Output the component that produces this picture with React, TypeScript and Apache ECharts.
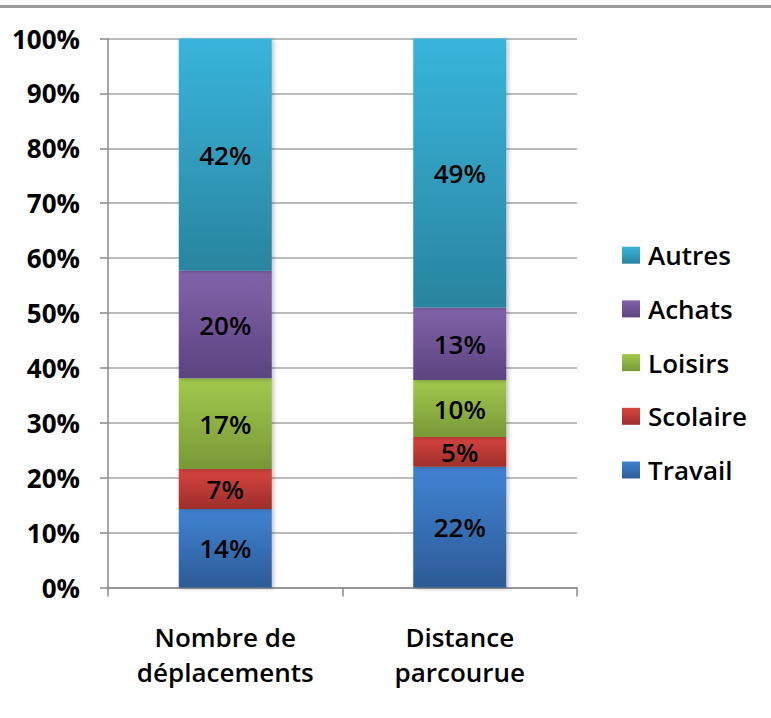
import React, { useEffect, useRef } from "react";
import * as echarts from "echarts";

const categories = ["Nombre de\ndéplacements", "Distance\nparcourue"];
const seriesNames = ["Travail", "Scolaire", "Loisirs", "Achats", "Autres"];
const travail = [14.3, 22.0];
const scolaire = [7.3, 5.4];
const loisirs = [16.5, 10.4];
const achats = [19.6, 13.2];
const autres = [42.3, 49.0];
const yTicks = [0, 10, 20, 30, 40, 50, 60, 70, 80, 90, 100];

const gradients: [string, string][] = [
  ["#4083d2", "#2d5b97"],
  ["#d8443f", "#9e2e2b"],
  ["#a2c94c", "#789838"],
  ["#8263ab", "#5c4480"],
  ["#38b5dc", "#2a849f"],
];

const FONT = "'Open Sans', 'DejaVu Sans', sans-serif";

export default function App() {
  const ref = useRef<HTMLDivElement>(null);
  useEffect(() => {
    if (!ref.current) return;
    const chart = echarts.init(ref.current, undefined, { renderer: "svg" });
    const values = [travail, scolaire, loisirs, achats, autres];
    const series = seriesNames.map((name, i) => ({
      name,
      type: "bar",
      stack: "total",
      barWidth: 93,
      data: values[i],
      itemStyle: {
        color: new echarts.graphic.LinearGradient(0, 0, 0, 1, [
          { offset: 0, color: gradients[i][0] },
          { offset: 1, color: gradients[i][1] },
        ]),
        shadowBlur: 4,
        shadowColor: "rgba(0,0,0,0.25)",
        shadowOffsetX: 2,
        shadowOffsetY: 1,
      },
      label: {
        show: true,
        position: "inside",
        color: "#000",
        fontFamily: FONT,
        fontSize: 26,
        fontWeight: 600,
        formatter: (p: any) => Math.round(p.value) + "%",
      },
    }));
    chart.setOption({
      animation: false,
      backgroundColor: "#fff",
      graphic: [
        {
          type: "rect",
          shape: { x: 0, y: 5, width: 771, height: 3 },
          style: { fill: "#9a9a9a" },
        },
      ],
      grid: { left: 108, right: 194, top: 38.5, bottom: 130.5, containLabel: false },
      legend: {
        orient: "vertical",
        left: 622,
        top: 242.2,
        padding: 0,
        icon: "rect",
        itemWidth: 18,
        itemHeight: 17,
        itemGap: 27.7,
        data: seriesNames.slice().reverse(),
        textStyle: {
          fontFamily: FONT,
          fontSize: 26,
          fontWeight: 600,
          lineHeight: 26,
          color: "#000",
          padding: [0, 0, 0, 3],
        },
      },
      xAxis: {
        type: "category",
        data: categories,
        axisLine: { show: true, lineStyle: { color: "#8a8a8a", width: 1.5 } },
        axisTick: { show: true, length: 9, lineStyle: { color: "#8a8a8a", width: 1.5 } },
        axisLabel: {
          margin: 32,
          fontFamily: FONT,
          fontSize: 26,
          fontWeight: 600,
          lineHeight: 35,
          color: "#000",
          align: "center",
        },
      },
      yAxis: {
        type: "value",
        min: yTicks[0],
        max: yTicks[yTicks.length - 1],
        interval: 10,
        axisLine: { show: true, lineStyle: { color: "#8a8a8a", width: 1.5 } },
        axisTick: { show: true, length: 8, lineStyle: { color: "#8a8a8a", width: 1.5 } },
        splitLine: { show: true, lineStyle: { color: "#a6a6a6", width: 1.5 } },
        axisLabel: {
          margin: 28,
          fontFamily: FONT,
          fontSize: 26,
          fontWeight: "bold",
          color: "#000",
          formatter: "{value}%",
        },
      },
      series,
    });
    return () => chart.dispose();
  }, []);
  return (
    <div
      ref={ref}
      style={{ position: "fixed", left: 0, top: 0, width: 771, height: 718 }}
    />
  );
}
